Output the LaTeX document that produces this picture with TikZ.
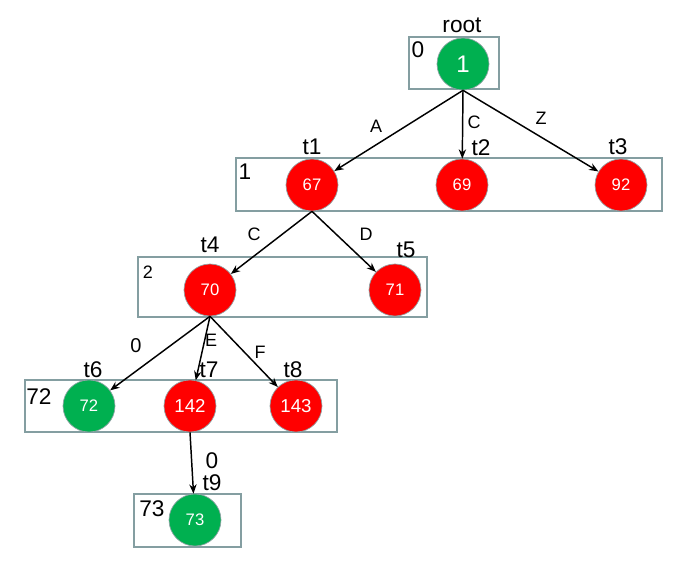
\documentclass[tikz,border=0pt]{standalone}
\usepackage{fontspec}
\setmainfont{Liberation Sans}
\usetikzlibrary{arrows.meta}
\definecolor{pgreen}{HTML}{00B050}
\definecolor{pred}{HTML}{FF0000}
\definecolor{boxc}{HTML}{849EA1}
\definecolor{ringc}{HTML}{8FA3A5}
\begin{document}
\begin{tikzpicture}[x=0.75pt,y=-0.75pt,
  levelbox/.style={draw=boxc,line width=1.3pt,fill=white},
  gnode/.style={circle,fill=pgreen,draw=ringc,line width=0.5pt,minimum size=39pt,inner sep=0pt,text=white,font=\fontsize{12.5}{12.5}\selectfont},
  rnode/.style={circle,fill=pred,draw=ringc,line width=0.5pt,minimum size=39pt,inner sep=0pt,text=white,font=\fontsize{12.5}{12.5}\selectfont},
  tlab/.style={inner sep=0pt,font=\fontsize{17}{17}\selectfont},
  elab/.style={inner sep=0pt,font=\fontsize{13.5}{13.5}\selectfont},
  edge/.style={line width=1.1pt,-{Stealth[length=7pt,width=5.5pt]}}]
\useasboundingbox (0,0) rectangle (677,567);
% level boxes
\draw[levelbox] (409,37) rectangle (499,89);
\draw[levelbox] (236,158) rectangle (662,211);
\draw[levelbox] (138,257) rectangle (427,317);
\draw[levelbox] (25,380) rectangle (337,432);
\draw[levelbox] (134,494) rectangle (241,547);
% level labels
\node[tlab] (l0) at (418,50) {0};
\node[tlab] (l1) at (245,172) {1};
\node[elab] (l2) at (148,272) {2};
\node[tlab] (l72) at (39,397) {72};
\node[tlab] (l73) at (152,509) {73};
% nodes
\node[gnode,font=\fontsize{18}{18}\selectfont] (root) at (463,64) {1};
\node[rnode] (t1) at (312,185) {67};
\node[rnode] (t2) at (462,185) {69};
\node[rnode] (t3) at (621,185) {92};
\node[rnode] (t4) at (210,290) {70};
\node[rnode] (t5) at (395,290) {71};
\node[gnode] (t6) at (89,406) {72};
\node[rnode,font=\fontsize{14}{14}\selectfont] (t7) at (190,406) {142};
\node[rnode,font=\fontsize{14}{14}\selectfont] (t8) at (296,406) {143};
\node[gnode] (t9) at (195,520) {73};
% node names
\node[tlab] (nroot) at (462,25) {root};
\node[tlab] (n1) at (312,147) {t1};
\node[tlab] (n2) at (481,148) {t2};
\node[tlab] (n3) at (618,147) {t3};
\node[tlab] (n4) at (210,245) {t4};
\node[tlab] (n5) at (406,250) {t5};
\node[tlab] (n6) at (93,370) {t6};
\node[tlab] (n7) at (209,370) {t7};
\node[tlab] (n8) at (293,370) {t8};
\node[tlab] (n9) at (212,483) {t9};
% edges
\draw[edge] (root.south) -- (t1);
\draw[edge] (root.south) -- (t2);
\draw[edge] (root.south) -- (t3);
\draw[edge] (t1.south) -- (t4);
\draw[edge] (t1.south) -- (t5);
\draw[edge] (t4.south) -- (t6);
\draw[edge] (t4.south) -- (t7);
\draw[edge] (t4.south) -- (t8);
\draw[edge] (t7.south) -- (t9);
% edge labels
\node[elab] (eA) at (376,126) {A};
\node[elab] (eC1) at (474,122) {C};
\node[elab] (eZ) at (541,118) {Z};
\node[elab] (eC2) at (254,234) {C};
\node[elab] (eD) at (366,234) {D};
\node[tlab,font=\fontsize{15}{15}\selectfont] (e0a) at (136,346) {0};
\node[elab] (eE) at (211,340) {E};
\node[elab] (eF) at (260,352) {F};
\node[tlab] (e0b) at (212,461) {0};
\end{tikzpicture}
\end{document}
